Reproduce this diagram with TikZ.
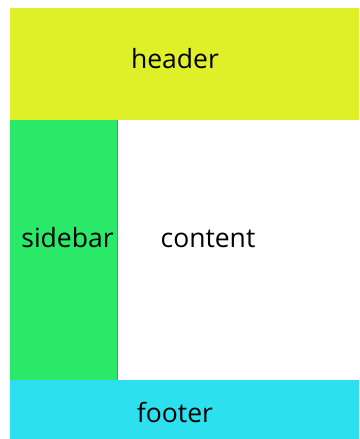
\documentclass[tikz,border=0pt]{standalone}
\usepackage{fontspec}
\setmainfont{Open Sans}
\usetikzlibrary{positioning}
\definecolor{headeryellow}{RGB}{224,240,40}
\definecolor{sidegreen}{RGB}{42,232,104}
\definecolor{footcyan}{RGB}{44,224,240}

\begin{document}
\begin{tikzpicture}[x=1pt, y=-1pt,
  area/.style={draw=none, inner sep=0pt, outer sep=0pt},
  lbl/.style={anchor=base, inner sep=0pt, font=\fontsize{26.5}{31}\selectfont}]
  \useasboundingbox (0,0) rectangle (359,439);

  \fill[headeryellow] (10,8) rectangle (359,120);
  \fill[sidegreen] (10,120) rectangle (118,380);
  \fill[footcyan] (10,380) rectangle (359,439);
  \draw[gray, line width=0.8pt] (117.6,120) -- (117.6,380);

  \node[lbl] (header)  at (175,68)  {header};
  \node[lbl] (sidebar) at (67.5,247) {sidebar};
  \node[lbl] (content) at (208,247) {content};
  \node[lbl] (footer)  at (175,422) {footer};
\end{tikzpicture}
\end{document}
